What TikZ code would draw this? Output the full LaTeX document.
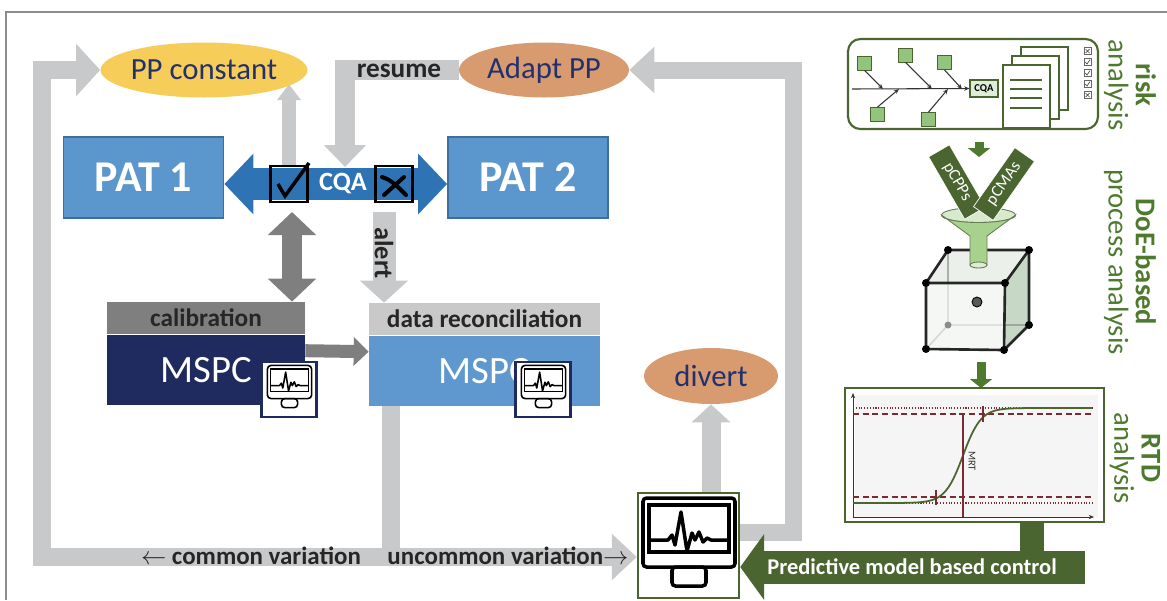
\documentclass[tikz,border=0pt]{standalone}
\usepackage{fontspec}
\setmainfont{Carlito}
\usetikzlibrary{arrows.meta, positioning, shapes.geometric, calc}

\definecolor{lgray}{HTML}{C8C9CB}
\definecolor{dgray}{HTML}{7F7F80}
\definecolor{patblue}{HTML}{5B97CD}
\definecolor{patedge}{HTML}{3D6E9E}
\definecolor{cqablue}{HTML}{2E74B5}
\definecolor{navy}{HTML}{1F2A5E}
\definecolor{recblue}{HTML}{5F98CE}
\definecolor{recgray}{HTML}{C9C9CA}
\definecolor{ppyellow}{HTML}{F6CD58}
\definecolor{ppbrown}{HTML}{D89B70}
\definecolor{inknavy}{HTML}{23306E}
\definecolor{pmgreen}{HTML}{4A6530}
\definecolor{txtgreen}{HTML}{4E7A2E}
\definecolor{leaf}{HTML}{93C47D}
\definecolor{funnel}{HTML}{A9D18E}
\definecolor{rtdred}{HTML}{7A2A30}

% monitor icon, drawn in pixel-like units around its centre
\tikzset{
  pics/screen/.style={code={
    \draw[rounded corners=2pt] (-46,-47) rectangle (46,22);
    \draw (-40,-40) rectangle (40,7);
    \draw[line join=round] (-40,-5) -- (-21,-5) -- (-17,-10) -- (-14,0) -- (-8,-33) -- (-2,6)
      -- (3,-12) -- (6,-5) -- (10,-13) -- (14,-3) -- (18,-7) -- (22,-5) -- (40,-5);
    \draw[rounded corners=2pt] (-17,22) rectangle (17,41);
  }}
}

\begin{document}
\begin{tikzpicture}[x=0.02cm, y=-0.02cm,
    every node/.style={inner sep=0pt},
    lgarrow/.style={draw=lgray, line join=miter},
    blockhead/.style 2 args={-{Triangle[width=#1,length=#2]}},
    oval/.style={ellipse, minimum width=4.08cm, minimum height=1.1cm, text=inknavy,
      font=\fontsize{17.5}{20}\selectfont},
    pat/.style={rectangle, fill=patblue, draw=patedge, line width=1pt, minimum width=3.2cm,
      minimum height=1.62cm, text=white, font=\bfseries\fontsize{25}{29}\selectfont},
    markbox/.style={draw=black, line width=1.6pt, minimum width=0.74cm, minimum height=0.72cm},
    hdr/.style={minimum height=0.64cm, text=black!85, font=\bfseries\fontsize{14.4}{17}\selectfont},
    mspc/.style={minimum height=1.4cm, text=white, font=\fontsize{22}{26}\selectfont},
    iconbox/.style={draw=navy, line width=1.2pt, fill=white, minimum size=1.1cm},
    barlabel/.style={text=black!85, font=\bfseries\fontsize{14.2}{17}\selectfont},
    sidelabel/.style={rotate=-90, align=center, text=txtgreen, font=\fontsize{16.3}{15.5}\selectfont},
    leafbox/.style={fill=leaf, draw=pmgreen, line width=0.5pt, minimum size=0.28cm},
    fishline/.style={black!80, line width=0.6pt, -{Stealth[length=3pt,width=2.5pt]}},
    tagbar/.style={fill=pmgreen, draw=white, line width=0.4pt, minimum width=1.44cm,
      minimum height=0.48cm, text=white, font=\fontsize{9.5}{11}\selectfont},
    greenarrow/.style={draw=txtgreen, line width=0.18cm, -{Triangle[width=0.44cm,length=0.18cm]}}]

  \useasboundingbox (0,0) rectangle (1167,600);
  \draw[black!45, line width=0.8pt] (6,600) -- (6,12) -- (1167,12);

  % process path on the left
  \node[oval, fill=ppyellow] (ppc) at (204,70) {PP constant};
  \node[oval, fill=ppbrown, minimum width=3.4cm] (adapt) at (544,70) {Adapt PP};
  \node[pat] (pat1) at (143.5,177.5) {PAT 1};
  \node[pat] (pat2) at (528,177.5) {PAT 2};

  \node[hdr, fill=dgray, minimum width=3.96cm] (calhead) at (206,318) {calibration};
  \node[mspc, fill=navy, minimum width=3.96cm, below=0pt of calhead] (mspc1) {MSPC};
  \node[hdr, fill=recgray, minimum width=4.62cm] (rechead) at (484.5,319) {data reconciliation};
  \node[mspc, fill=recblue, minimum width=4.62cm, below=0pt of rechead] (mspc2) {MSPC};

  \node[iconbox] (mon1) at (289,389.5) {};
  \pic[line width=0.9pt, scale=0.48] at (289.5,388) {screen};
  \node[iconbox] (mon2) at (543,389.5) {};
  \pic[line width=0.9pt, scale=0.48] at (543.5,388) {screen};

  \node[oval, fill=ppbrown, minimum width=2.68cm, minimum height=1.12cm] (divert) at (711,376) {divert};
  \node[draw=pmgreen, line width=1.4pt, fill=white, minimum width=2.02cm, minimum height=2.1cm] (ctrl) at (688.5,545.5) {};
  \pic[line width=2pt] at (689,545) {screen};

  % CQA check between the two PAT tools
  \coordinate (cqamid) at (343,184);
  \draw[draw=cqablue, line width=0.64cm,
    {Triangle[width=1.18cm,length=0.58cm]}-{Triangle[width=1.18cm,length=0.58cm]}]
    (pat1.east |- cqamid) -- (pat2.west |- cqamid);
  \node[text=white, font=\bfseries\fontsize{15}{18}\selectfont] (cqa) at (cqamid) {CQA};
  \node[markbox] (ok) at (289,184) {};
  \node[markbox] (nok) at (394,184) {};
  \draw[line width=2pt, line join=miter] (278,184) -- (285,196) -- (309,163);
  \draw[line width=2.3pt, line cap=round] (382,177) .. controls (392,180) and (399,188) .. (406,195);
  \draw[line width=2.3pt, line cap=round] (404,177) -- (384,195);

  % grey loops
  \coordinate (resdrop) at (345,167);
  \coordinate (split) at (391,557);
  \coordinate (corner) at (42,557);
  \coordinate (rloop) at (793,532);
  \coordinate (alerttop) at (384,212);
  \coordinate (padtop) at (292,212);

  \draw[lgarrow, line width=0.28cm, blockhead={0.46cm}{0.32cm}] (ok.north) -- (ok.north |- ppc.-9);
  \draw[lgarrow, line width=0.4cm, blockhead={0.82cm}{0.44cm}] (adapt.west) -| (resdrop);
  \node[text=black!85, font=\bfseries\fontsize{15.5}{18}\selectfont] (resume) at (399,71) {resume};

  \draw[lgarrow, line width=0.36cm, blockhead={1.02cm}{0.48cm}]
    (split |- mspc2.south) -- (split) -- (corner) |- (ppc.west);
  \draw[lgarrow, line width=0.36cm, blockhead={0.9cm}{0.5cm}] (split) -- (ctrl.west |- split);
  \node[barlabel] (common) at (251,556) {$\leftarrow$ common variation};
  \node[barlabel] (uncommon) at (508,556) {uncommon variation$\rightarrow$};

  \draw[lgarrow, line width=0.34cm, blockhead={0.9cm}{0.5cm}] (ctrl.east |- rloop) -- (rloop) |- (adapt.east);
  \draw[lgarrow, line width=0.38cm, blockhead={0.76cm}{0.36cm}] (divert.south |- ctrl.north) -- (divert.south);

  \draw[lgarrow, line width=0.46cm, blockhead={0.94cm}{0.44cm}] (alerttop) -- (alerttop |- rechead.north);
  \node[rotate=-90, text=black!85, font=\bfseries\fontsize{15}{18}\selectfont] (alert) at (384,253) {alert};

  \draw[draw=dgray, line width=0.4cm,
    {Triangle[width=0.94cm,length=0.46cm]}-{Triangle[width=0.94cm,length=0.46cm]}]
    (padtop) -- (padtop |- calhead.north);
  \draw[draw=dgray, line width=0.26cm, blockhead={0.56cm}{0.3cm}]
    ($(mspc1.east)+(0,-19)$) -- ($(mspc2.west)+(0,-19)$);

  % risk analysis
  \node[draw=pmgreen, line width=1.2pt, rounded corners=7pt, minimum width=5cm, minimum height=1.8cm] (risk) at (973,84) {};
  \node[draw=pmgreen, fill=leaf!30, line width=0.6pt, minimum width=0.56cm, minimum height=0.34cm,
    font=\bfseries\fontsize{6}{7}\selectfont] (fishcqa) at (984,88.5) {CQA};
  \draw[fishline] (852,89) -- (fishcqa.west);
  \foreach \sx/\sy/\ex [count=\i] in {864.5/63/883, 905.5/55/932, 944.5/62.5/962} {
    \node[leafbox] (top\i) at (\sx,\sy) {};
    \draw[fishline] (top\i.south) -- (\ex,89);
  }
  \foreach \sx/\sy/\ex [count=\i] in {877.5/114.5/899, 928.5/119.5/948} {
    \node[leafbox] (bot\i) at (\sx,\sy) {};
    \draw[fishline] (bot\i.north) -- (\ex,89);
  }
  \foreach \d in {18,9,0}
    \draw[fill=white, draw=pmgreen, line width=1pt] (1003+\d,65-\d) rectangle (1050+\d,128-\d);
  \foreach \ly in {80,89,98,108}
    \draw[pmgreen, line width=1pt] (1010,\ly) -- (1042,\ly);
  \foreach \cy in {51,62,73,84,95}
    \draw[black!60, line width=0.4pt] (1084,\cy-3.5) rectangle (1091,\cy+3.5);
  \foreach \cy in {51,95}
    \draw[black!70, line width=0.4pt] (1085.5,\cy-2) -- (1089.5,\cy+2) (1085.5,\cy+2) -- (1089.5,\cy-2);
  \foreach \cy in {62,73,84}
    \draw[black!70, line width=0.4pt] (1085.3,\cy) -- (1087,\cy+2) -- (1090,\cy-2.5);
  \node[sidelabel] (risklbl) at (1130,85) {\textbf{risk}\\analysis};

  \coordinate (g1a) at (979,142);
  \coordinate (g1b) at (979,157);
  \draw[greenarrow] (g1a) -- (g1b);

  % DoE cube
  \coordinate (cA) at (926,283); \coordinate (cB) at (1005,283);
  \coordinate (cC) at (1004,350); \coordinate (cD) at (926,349);
  \coordinate (cE) at (948,250); \coordinate (cF) at (1029,250);
  \coordinate (cG) at (1029,325); \coordinate (cH) at (948,325);
  \fill[green!25!black!8] (cA) -- (cB) -- (cF) -- (cE) -- cycle;
  \fill[green!30!black!22] (cB) -- (cF) -- (cG) -- (cC) -- cycle;
  \draw[black!45, line width=0.8pt] (cE) -- (cH) -- (cG) (cH) -- (cD);
  \fill[green!20!black!6, opacity=0.7] (cA) -- (cB) -- (cC) -- (cD) -- cycle;
  \draw[black!85, line width=1.5pt, line join=round] (cA) -- (cB) -- (cC) -- (cD) -- cycle
    (cA) -- (cE) -- (cF) -- (cB) (cF) -- (cG) -- (cC);
  \foreach \v in {cA,cB,cC,cD,cE,cF,cG}
    \fill[black] (\v) circle[radius=0.08cm];
  \fill[black!45] (cH) circle[radius=0.07cm];
  \draw[black, fill=black!65, line width=0.5pt] (977,302) circle[radius=0.1cm];

  % funnel with the two parameter tags
  \draw[fill=funnel!45, draw=funnel!60!black, line width=0.5pt] (978.5,215) ellipse[x radius=0.74cm, y radius=0.15cm];
  \node[tagbar, rotate=-60] (pcpp) at (957,182) {pCPPs};
  \node[tagbar, rotate=55] (pcma) at (1004,184) {pCMAs};
  \draw[fill=funnel, draw=funnel!60!black, line width=0.5pt]
    (941.5,215) -- (970,236) -- (970,265) -- (987,265) -- (987,236) -- (1015.5,215)
    arc[start angle=0, end angle=-180, x radius=0.74cm, y radius=0.15cm] -- cycle;
  \draw[fill=funnel!40, draw=funnel!60!black, line width=0.5pt] (978.5,265) ellipse[x radius=0.17cm, y radius=0.06cm];
  \node[sidelabel] (doelbl) at (1130,262) {\textbf{DoE-based}\\process analysis};

  \coordinate (doebot) at (981,362);
  \draw[greenarrow] (doebot) -- (doebot |- 0,388);

  % RTD analysis
  \node[draw=pmgreen, line width=1pt, fill=white, minimum width=5.18cm, minimum height=2.68cm] (rtd) at (974.5,455) {};
  \fill[black!4] (855,395) rectangle (1098,517);
  \draw[black!80, line width=0.4pt, -{Stealth[length=3pt,width=2.4pt]}] (853,517) -- (853,393);
  \draw[black!80, line width=0.4pt, -{Stealth[length=3pt,width=2.4pt]}] (853,517) -- (1094,517);
  \draw[rtdred, line width=0.6pt, densely dotted] (853,408) -- (1092,408) (853,503) -- (1092,503);
  \draw[rtdred, line width=0.6pt, dash pattern=on 3.5pt off 2pt] (853,414) -- (1092,414) (853,497) -- (1092,497);
  \draw[pmgreen, line width=1pt] (853,503) -- plot[domain=890:1040, samples=60] (\x,{503-95/(1+exp(-(\x-963)/9))}) -- (1092,408);
  \draw[rtdred, line width=0.8pt] (936,490) -- (936,505) (983,406) -- (983,422) (963,413) -- (963,517);
  \node[rotate=-90, text=black!80, font=\fontsize{6}{7}\selectfont] (mrt) at (972,461) {MRT};
  \node[sidelabel] (rtdlbl) at (1135,458) {\textbf{RTD}\\analysis};

  % predictive control back to the monitor
  \coordinate (pmend) at (1085,567);
  \coordinate (stem) at (1032,552);
  \draw[draw=pmgreen, line width=0.48cm] (stem |- rtd.south) -- (stem);
  \draw[draw=pmgreen, line width=0.66cm, blockhead={1.3cm}{0.48cm}] (pmend) -- (ctrl.east |- pmend);
  \node[anchor=west, text=white, font=\bfseries\fontsize{12.8}{15}\selectfont] (pmtext) at (767,567) {Predictive model based control};
\end{tikzpicture}
\end{document}
